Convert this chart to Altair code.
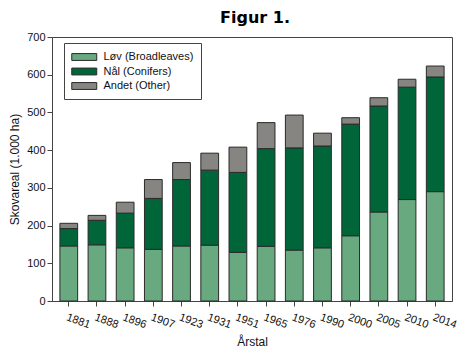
import altair as alt
import pandas as pd

years = ["1881", "1888", "1896", "1907", "1923", "1931", "1951", "1965",
         "1976", "1990", "2000", "2005", "2010", "2014"]
lov = [146, 149, 141, 137, 146, 148, 129, 145, 135, 141, 173, 236, 269, 290]
nal = [46, 65, 92, 135, 176, 199, 212, 259, 271, 270, 296, 281, 298, 304]
andet = [14, 13, 29, 50, 45, 45, 67, 69, 87, 34, 17, 22, 21, 29]

series = ["Løv (Broadleaves)", "Nål (Conifers)", "Andet (Other)"]
colors = ["#68a97f", "#00663a", "#878581"]

rows = []
for i, y in enumerate(years):
    for k, (name, vals) in enumerate(zip(series, [lov, nal, andet])):
        rows.append({"Årstal": y, "Type": name, "Værdi": vals[i], "ord": k})
df = pd.DataFrame(rows)

font = "Liberation Sans"

chart = alt.Chart(df).mark_bar(stroke="#2a2a2a", strokeWidth=1).encode(
    x=alt.X("Årstal:N", sort=years,
            scale=alt.Scale(paddingInner=0.37, paddingOuter=0.28),
            axis=alt.Axis(title="Årstal", labelAngle=20, labelAlign="left",
                          labelBaseline="top", labelPadding=5, tickSize=5,
                          titlePadding=7)),
    y=alt.Y("Værdi:Q", stack="zero",
            scale=alt.Scale(domain=[0, 700], nice=False),
            axis=alt.Axis(title="Skovareal (1.000 ha)", values=list(range(0, 701, 100)),
                          tickSize=5, grid=False, titlePadding=5)),
    color=alt.Color("Type:N",
                    scale=alt.Scale(domain=series, range=colors),
                    legend=alt.Legend(title=None, orient="none", legendX=12, legendY=6,
                                      symbolType="M-1,-0.55H3V0.55H-1Z",
                                      symbolSize=156, symbolStrokeColor="#2a2a2a",
                                      symbolStrokeWidth=1, symbolFillColor="#fff",
                                      labelFontSize=11, labelFont=font,
                                      labelColor="#111", rowPadding=1.5,
                                      padding=7, strokeColor="#444",
                                      fillColor="white", labelOffset=18.5)),
    order=alt.Order("ord:Q"),
).properties(
    width=400, height=264,
    title=alt.Title("Figur 1.", font="DejaVu Sans", fontSize=16, fontWeight="bold",
                    offset=5, dx=3, color="#000"),
    autosize=alt.AutoSizeParams(type="none"),
    padding={"left": 44, "top": 29, "right": 10, "bottom": 50},
).configure_view(
    stroke="#444", strokeWidth=1
).configure_axis(
    labelFont=font, titleFont=font, labelFontSize=11, titleFontSize=12,
    labelColor="#111", titleColor="#111", titleFontWeight="normal",
    domainColor="#444", tickColor="#444"
)

chart.save("out.html", embed_options={"renderer": "svg", "actions": False})
